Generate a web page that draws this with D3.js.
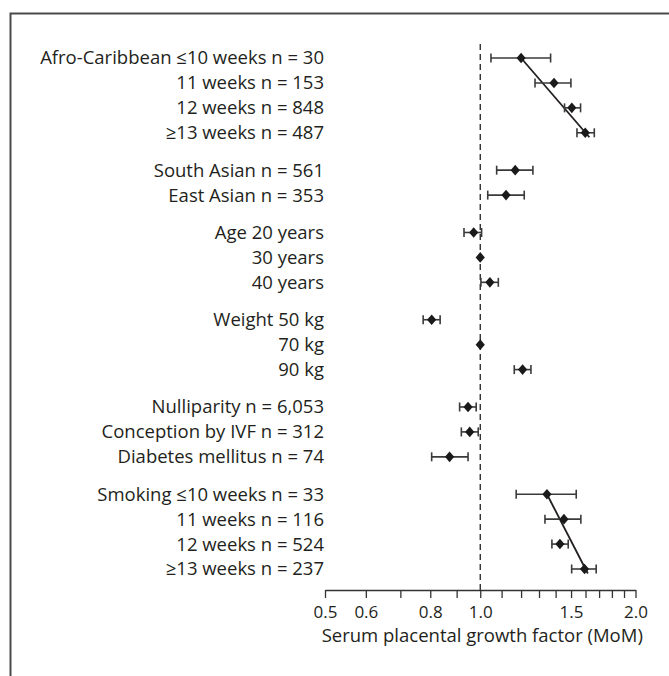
<!DOCTYPE html>
<html>
<head>
<meta charset="utf-8">
<script src="https://cdn.jsdelivr.net/npm/d3@7"></script>
<style>
  html, body { margin: 0; padding: 0; background: #fff; }
  svg { display: block; }
</style>
</head>
<body>
<div id="chart"></div>
<script>
// Row labels, top to bottom
var labels = [
    "Afro-Caribbean \u226410 weeks n = 30",
    "11 weeks n = 153",
    "12 weeks n = 848",
    "\u226513 weeks n = 487",
    "South Asian n = 561",
    "East Asian n = 353",
    "Age 20 years",
    "30 years",
    "40 years",
    "Weight 50 kg",
    "70 kg",
    "90 kg",
    "Nulliparity n = 6,053",
    "Conception by IVF n = 312",
    "Diabetes mellitus n = 74",
    "Smoking \u226410 weeks n = 33",
    "11 weeks n = 116",
    "12 weeks n = 524",
    "\u226513 weeks n = 237"
];
// which block each row belongs to (blocks are separated by a small gap)
var blocks = [0, 0, 0, 0, 1, 1, 2, 2, 2, 3, 3, 3, 4, 4, 4, 5, 5, 5, 5];

// MoM estimates and 95% CI
var mom   = [1.20, 1.39, 1.505, 1.598, 1.169, 1.122, 0.971, 1.0, 1.044, 0.805, 1.0, 1.208, 0.947, 0.954, 0.872, 1.347, 1.453, 1.427, 1.593];
var lower = [1.049, 1.277, 1.457, 1.540, 1.076, 1.034, 0.930, 1.0, 1.003, 0.775, 1.0, 1.164, 0.912, 0.919, 0.805, 1.174, 1.335, 1.377, 1.504];
var upper = [1.369, 1.499, 1.565, 1.664, 1.265, 1.217, 1.006, 1.0, 1.084, 0.836, 1.0, 1.254, 0.982, 0.991, 0.947, 1.535, 1.567, 1.481, 1.678];

// fitted trend lines (row from, row to, value from, value to)
var trendFrom  = [0, 15];
var trendTo    = [3, 18];
var trendStart = [1.20, 1.347];
var trendEnd   = [1.60, 1.60];

// x axis
var tickValues = [0.5, 0.6, 0.7, 0.8, 0.9, 1.0, 1.1, 1.2, 1.3, 1.4, 1.5, 1.6, 1.7, 1.8, 1.9, 2.0];
var tickLabels = [0.5, 0.6, 0.8, 1.0, 1.5, 2.0];
var xTitle = "Serum placental growth factor (MoM)";

var svgWidth = 669;
var svgHeight = 676;
var font = "'Open Sans', sans-serif";
var ink = "#231f20";

var svg = d3.select("#chart")
    .append("svg")
    .attr("width", svgWidth)
    .attr("height", svgHeight);

// frame (only top and left edge are visible)
svg.append("path")
    .attr("d", "M10.5,676 V13.5 H669")
    .attr("fill", "none")
    .attr("stroke", "#4a4a4a")
    .attr("stroke-width", 2);

var x = d3.scaleLog()
    .domain([0.5, 2.0])
    .range([325, 635.5]);

var pos = labels.map(function (d, i) { return i + blocks[i] * 0.5; });

var y = d3.scaleLinear()
    .domain([0, 20.5])
    .range([58, 569]);

var axisY = 590;

// reference line at MoM 1.0
svg.append("line")
    .attr("x1", x(1)).attr("x2", x(1))
    .attr("y1", 44).attr("y2", axisY)
    .attr("stroke", ink)
    .attr("stroke-width", 1.3)
    .attr("stroke-dasharray", "6,4");

// axis
var axis = d3.axisBottom(x)
    .tickValues(tickValues)
    .tickSize(8)
    .tickSizeOuter(0)
    .tickFormat(function (d) { return tickLabels.indexOf(d) >= 0 ? d3.format(".1f")(d) : ""; });

var gx = svg.append("g")
    .attr("transform", "translate(0," + axisY + ")")
    .call(axis);
gx.select(".domain").attr("stroke", "#333").attr("stroke-width", 1.3);
gx.selectAll(".tick line").attr("stroke", "#333").attr("stroke-width", 1.3);
gx.selectAll(".tick text")
    .attr("y", 16)
    .attr("fill", ink)
    .style("font-family", font)
    .style("font-size", "17px");

svg.append("text")
    .attr("x", x(1) + 2)
    .attr("y", 642)
    .attr("text-anchor", "middle")
    .attr("fill", ink)
    .style("font-family", font)
    .style("font-size", "18.5px")
    .text(xTitle);

// row labels
svg.append("g")
    .selectAll("text")
    .data(labels)
    .enter()
    .append("text")
    .attr("x", 324)
    .attr("y", function (d, i) { return y(pos[i]); })
    .attr("dy", "0.35em")
    .attr("text-anchor", "end")
    .attr("fill", ink)
    .style("font-family", font)
    .style("font-size", "18.5px")
    .text(function (d) { return d; });

// trend lines
trendFrom.forEach(function (r0, k) {
    var r1 = trendTo[k];
    var p0 = [x(trendStart[k]), y(pos[r0])];
    var p1 = [x(trendEnd[k]), y(pos[r1])];
    var t = 1.06; // runs a little past the last point
    svg.append("line")
        .attr("x1", p0[0]).attr("y1", p0[1])
        .attr("x2", p0[0] + (p1[0] - p0[0]) * t)
        .attr("y2", p0[1] + (p1[1] - p0[1]) * t)
        .attr("stroke", ink)
        .attr("stroke-width", 1.8);
});

// error bars
var idx = d3.range(labels.length).filter(function (i) { return upper[i] > lower[i]; });
var bars = svg.append("g")
    .attr("stroke", "#3a3a3a")
    .attr("stroke-width", 1.6);
bars.selectAll(".ci")
    .data(idx)
    .enter()
    .append("line")
    .attr("x1", function (i) { return x(lower[i]); })
    .attr("x2", function (i) { return x(upper[i]); })
    .attr("y1", function (i) { return y(pos[i]); })
    .attr("y2", function (i) { return y(pos[i]); });
[lower, upper].forEach(function (arr) {
    bars.selectAll(null)
        .data(idx)
        .enter()
        .append("line")
        .attr("x1", function (i) { return x(arr[i]); })
        .attr("x2", function (i) { return x(arr[i]); })
        .attr("y1", function (i) { return y(pos[i]) - 4.5; })
        .attr("y2", function (i) { return y(pos[i]) + 4.5; });
});

// diamonds
svg.append("g")
    .selectAll("path")
    .data(mom)
    .enter()
    .append("path")
    .attr("transform", function (d, i) { return "translate(" + x(d) + "," + y(pos[i]) + ")"; })
    .attr("d", "M0,-5.3 L4.6,0 L0,5.3 L-4.6,0 Z")
    .attr("fill", "#1a1a1a");
</script>
</body>
</html>
